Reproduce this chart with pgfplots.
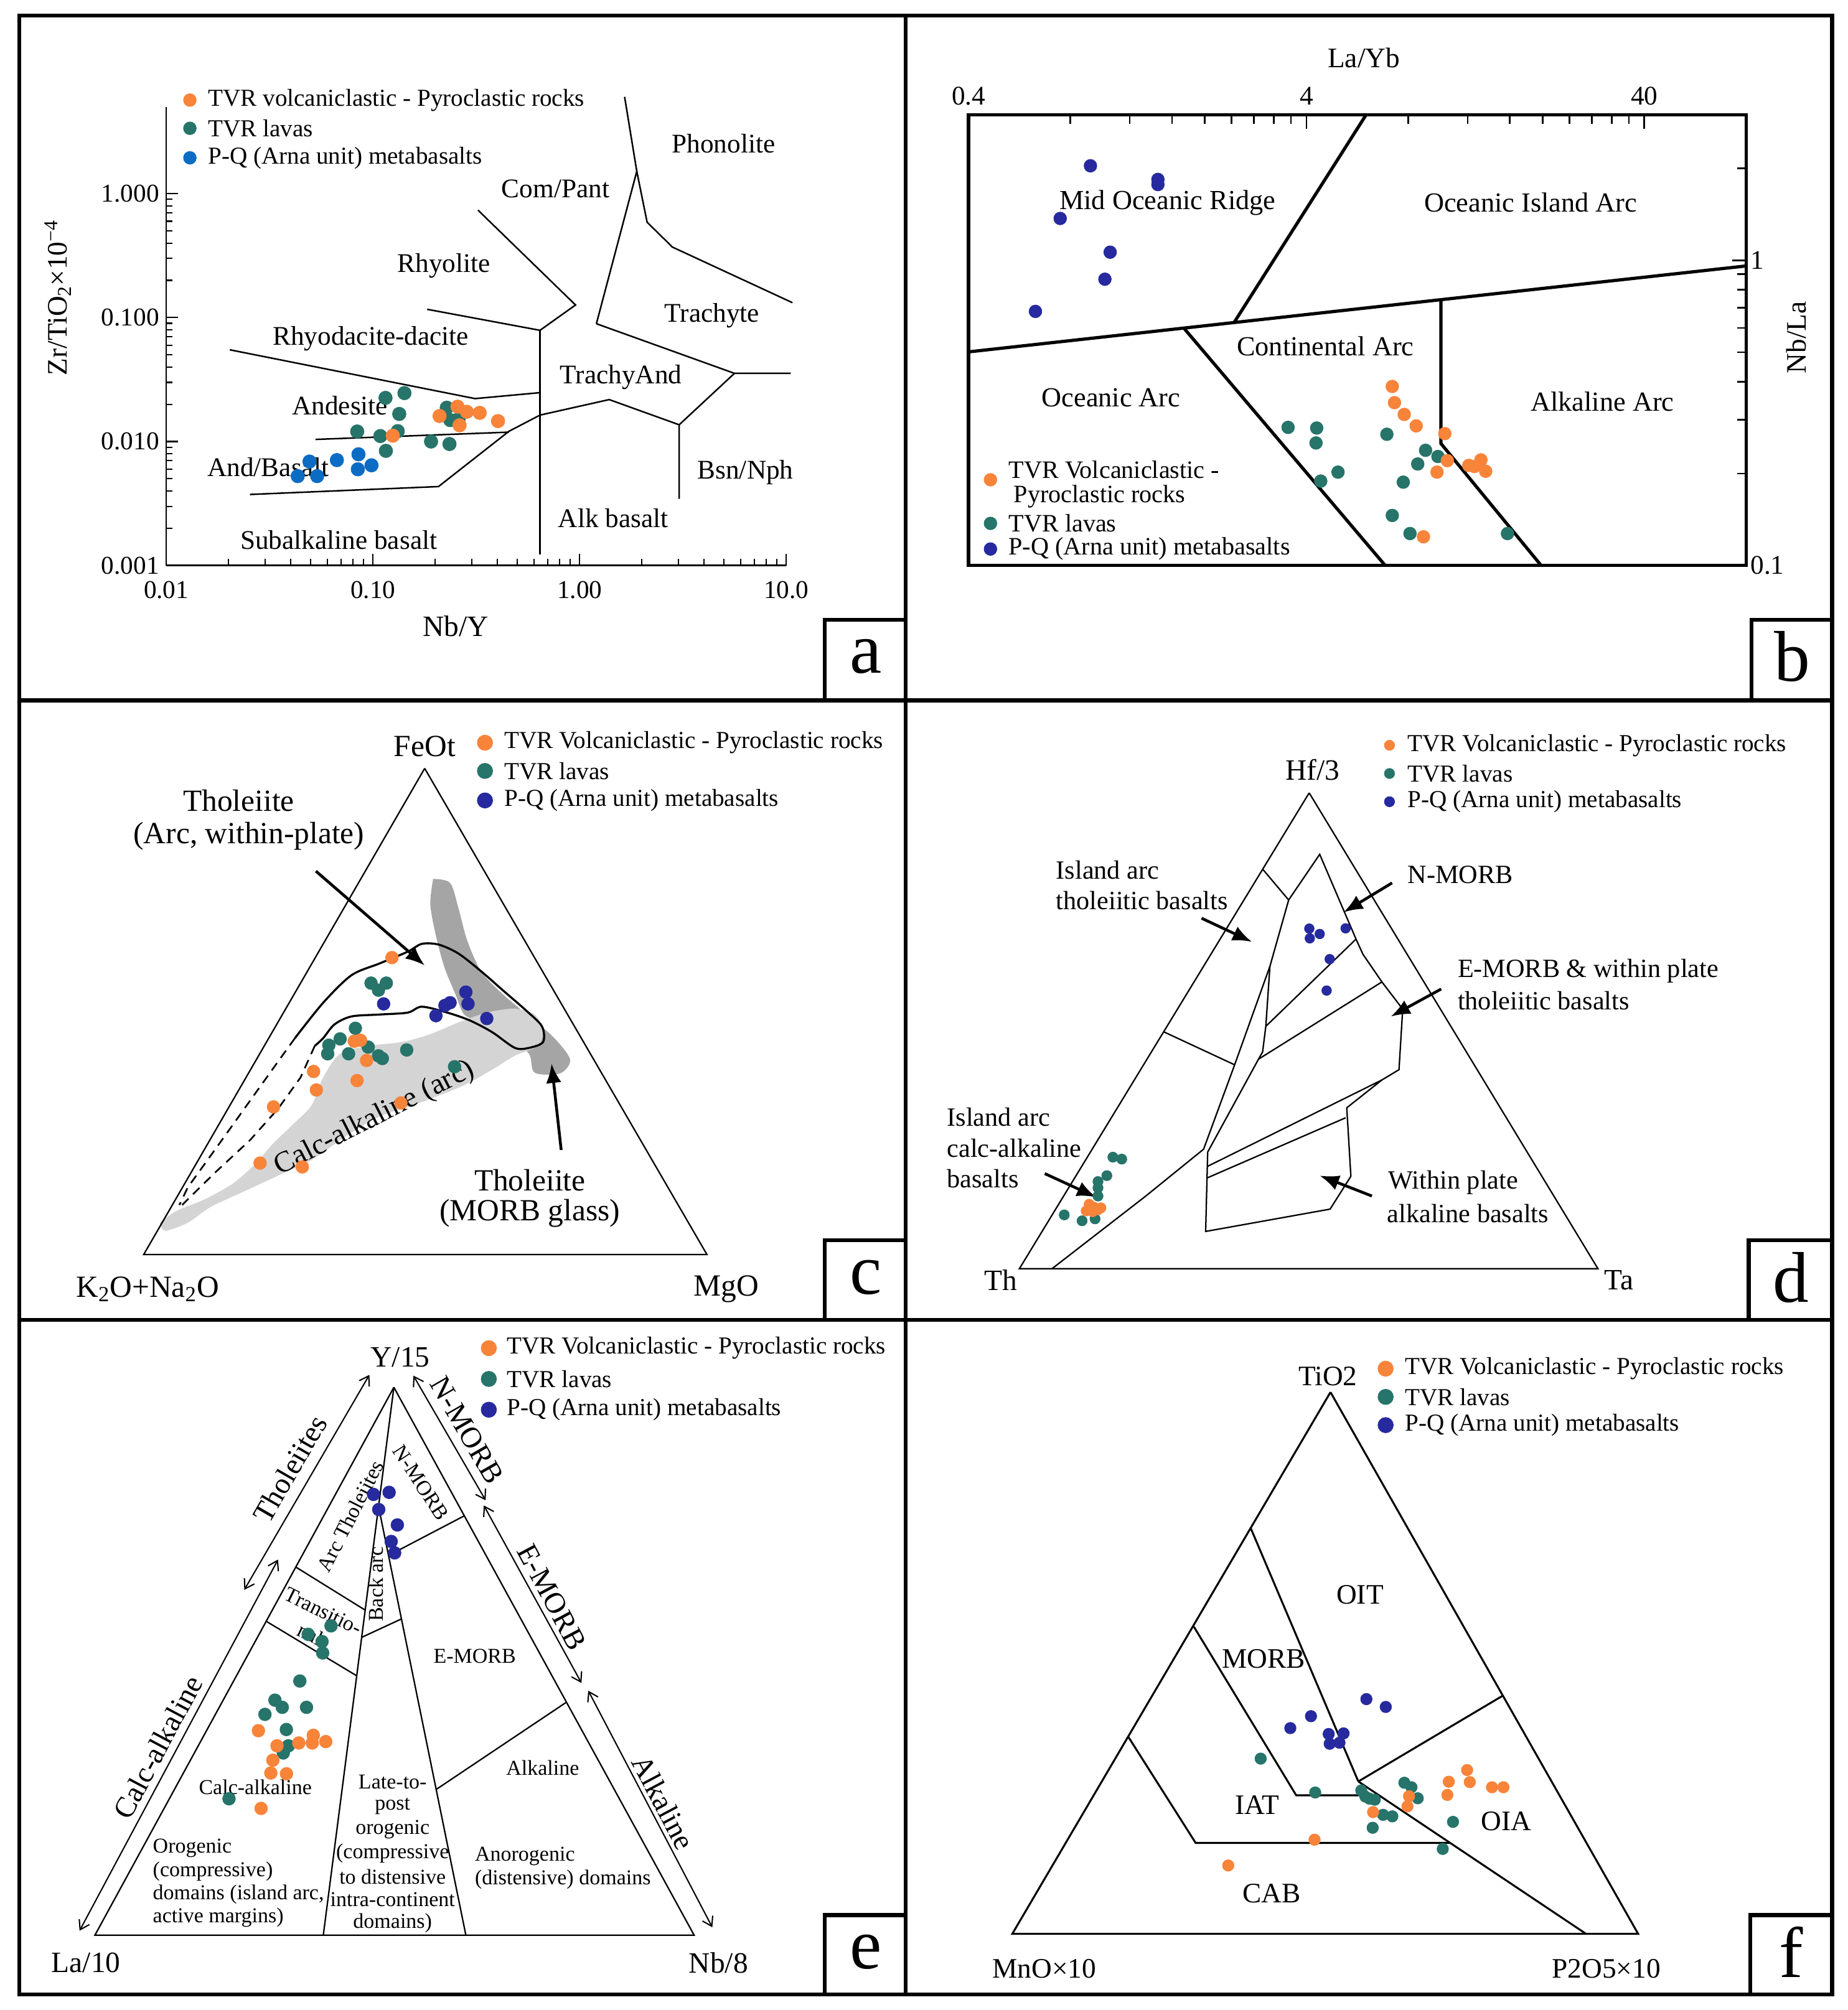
\documentclass[border=0pt]{standalone}
\usepackage{fontspec}
\setmainfont{Liberation Serif}
\usepackage{pgfplots}
\pgfplotsset{compat=1.18}
\usetikzlibrary{arrows.meta}
\definecolor{cOr}{RGB}{248,132,58}
\definecolor{cTe}{RGB}{38,116,106}
\definecolor{cBl}{RGB}{12,108,196}
\definecolor{cNv}{RGB}{38,42,158}
\definecolor{cLg}{RGB}{212,212,212}
\definecolor{cDg}{RGB}{165,165,165}
\newcommand{\fs}[1]{\fontsize{#1}{#1}\selectfont}
\tikzset{arr/.style={-{Latex[length=15pt,width=12pt]}, line width=2.2pt},
  dbl/.style={{Straight Barb[length=7pt,width=9pt]}-{Straight Barb[length=7pt,width=9pt]}, line width=1pt}}

\begin{document}
\begin{tikzpicture}
\useasboundingbox (0,0) rectangle (1440pt,-1567pt);

% ---------- canvas in picture pixels (frames, ternary diagrams, texts) ----------
\begin{axis}[at={(0pt,0pt)}, anchor=north west, hide axis, scale only axis,
  width=1440pt, height=1567pt, xmin=0, xmax=1440, ymin=0, ymax=1567,
  y dir=reverse, clip=false]

% frames
\draw[line width=3pt] (15,12) rectangle (1428,1555);
\draw[line width=3pt] (706,12) -- (706,1555);
\draw[line width=3pt] (15,546) -- (1428,546);
\draw[line width=3pt] (15,1029) -- (1428,1029);
\draw[line width=3pt] (643,546) -- (643,483) -- (706,483);
\draw[line width=3pt] (1365,546) -- (1365,483) -- (1428,483);
\draw[line width=3pt] (643,1029) -- (643,967) -- (706,967);
\draw[line width=3pt] (1363,1029) -- (1363,967) -- (1428,967);
\draw[line width=3pt] (643,1555) -- (643,1493) -- (706,1493);
\draw[line width=3pt] (1364,1555) -- (1364,1493) -- (1428,1493);
\node[font=\fs{56}] at (675,512) {a};
\node[font=\fs{56}] at (1397,512) {b};
\node[font=\fs{56}] at (675,996) {c};
\node[font=\fs{56}] at (1396,996) {d};
\node[font=\fs{56}] at (675,1522) {e};
\node[font=\fs{56}] at (1396,1522) {f};

% ---------- panel a texts ----------
\addplot[only marks, mark=*, mark size=5pt, cOr] coordinates {(148,78)};
\addplot[only marks, mark=*, mark size=5pt, cTe] coordinates {(148,100)};
\addplot[only marks, mark=*, mark size=5pt, cBl] coordinates {(148,123)};
\begin{scope}[every node/.style={font=\fs{19}, anchor=west, inner sep=0pt}]
\node at (162,78) {TVR volcaniclastic - Pyroclastic rocks};
\node at (162,100) {TVR lavas};
\node at (162,123) {P-Q (Arna unit) metabasalts};
\end{scope}
\begin{scope}[every node/.style={font=\fs{21}, inner sep=0pt}]
\node at (564,112) {Phonolite};
\node at (433,147) {Com/Pant};
\node at (346,207) {Rhyolite};
\node at (555,246) {Trachyte};
\node at (289,264) {Rhyodacite-dacite};
\node at (484,294) {TrachyAnd};
\node at (265,316) {Andesite};
\node at (209,364) {And/Basalt};
\node at (581,368) {Bsn/Nph};
\node at (478,404) {Alk basalt};
\node at (264,421) {Subalkaline basalt};
\node[font=\fs{23}] at (355,488) {Nb/Y};
\node[font=\fs{22}, rotate=90] at (45,232) {Zr/TiO\textsubscript{2}×10\textsuperscript{−4}};
\end{scope}

% ---------- panel b texts ----------
\addplot[only marks, mark=*, mark size=5pt, cOr] coordinates {(772,374)};
\addplot[only marks, mark=*, mark size=5pt, cTe] coordinates {(772,408)};
\addplot[only marks, mark=*, mark size=5pt, cNv] coordinates {(772,428)};
\begin{scope}[every node/.style={font=\fs{19.5}, anchor=west, inner sep=0pt}]
\node at (786,366) {TVR Volcaniclastic -};
\node at (790,387) {Pyroclastic rocks};
\node at (786,408) {TVR lavas};
\node at (786,428) {P-Q (Arna unit) metabasalts};
\end{scope}
\begin{scope}[every node/.style={font=\fs{21.5}, inner sep=0pt}]
\node at (910,158) {Mid Oceanic Ridge};
\node at (1193,158) {Oceanic Island Arc};
\node at (1033,270) {Continental Arc};
\node at (866,310) {Oceanic Arc};
\node at (1249,313) {Alkaline Arc};
\node[font=\fs{22}] at (1063,45) {La/Yb};
\node[font=\fs{22}, rotate=90] at (1400,263) {Nb/La};
\end{scope}

% ---------- panel c ----------
\addplot[fill=cDg, draw=none, smooth, tension=0.5] coordinates {
  (337.6,685.2)(350.8,688.3)(357.4,708.2)(364.0,732.7)(375.0,757.2)(392.5,775.6)
  (414.5,794.0)(432.1,809.3)(444.4,826.1)(436.5,836.8)(416.7,836.2)(412.3,821.5)
  (396.9,809.3)(375.0,797.0)(361.8,790.9)(355.2,775.6)(346.4,754.1)(339.8,729.6)
  (335.4,705.1)(337.6,685.2)};
\addplot[fill=cLg, draw=none, smooth, tension=0.5] coordinates {
  (124.4,953.2)(137.6,944.0)(159.6,934.9)(181.6,922.6)(199.1,907.3)(212.3,892.0)
  (229.9,875.1)(243.1,861.3)(251.9,839.9)(265.1,821.5)(287.0,815.4)(313.4,812.3)
  (335.4,806.2)(357.4,797.0)(379.4,789.4)(401.3,786.3)(416.7,790.9)(423.3,803.1)
  (419.0,815.4)(401.3,823.0)(383.7,833.8)(361.8,846.0)(331.0,858.3)(295.8,870.5)
  (269.5,885.8)(243.1,904.2)(216.7,916.5)(190.4,928.7)(164.0,941.0)(146.4,953.2)
  (128.8,959.4)(124.4,953.2)};
\addplot[black, line width=1.1pt] coordinates {(331,599)(112,978)(551,978)(331,599)};
\addplot[black, line width=1.6pt, smooth, tension=0.5] coordinates {
  (229.9,809.3)(251.9,781.7)(273.9,760.3)(295.8,751.1)(317.8,741.9)(328.8,735.8)
  (342.0,736.4)(357.4,743.4)(375.0,757.2)(392.5,772.5)(410.1,787.8)(422.4,800.1)
  (423.3,812.3)(412.3,816.9)(401.3,816.9)(383.7,804.7)(366.2,795.5)(348.6,789.4)
  (328.8,784.8)(317.8,789.4)(295.8,790.9)(273.9,792.4)(260.7,798.6)(251.9,809.3)
  (245.3,815.4)};
\addplot[black, line width=1.3pt, dash pattern=on 7pt off 5pt] coordinates {
  (229.9,809.3)(216.7,827.6)(199.1,852.2)(181.6,876.7)(164.0,901.2)(146.4,925.6)(139.8,939.4)};
\addplot[black, line width=1.3pt, dash pattern=on 7pt off 5pt] coordinates {
  (245.3,815.4)(234.3,839.9)(216.7,864.4)(194.8,888.9)(168.4,913.4)(146.4,934.9)(142.0,939.4)};
\addplot[arr] coordinates {(246.2,679.1)(331.0,752.6)};
\addplot[arr] coordinates {(437.4,896.5)(429.9,829.2)};
\addplot[only marks, mark=*, mark size=5pt, cTe] coordinates {
  (289.2,766.4)(301.1,766.4)(295.0,771.9)(277,801.6)(265.1,809.9)(256.3,814.8)
  (255.4,821.5)(271.7,821.5)(287.0,816.3)(295.0,823.1)(298.0,825.2)(317.0,818.5)(354.3,831.6)};
\addplot[only marks, mark=*, mark size=5pt, cOr] coordinates {
  (305.5,746.5)(276.1,811.7)(281,811)(285.7,826.7)(244.4,835.3)(278.3,842.4)
  (246.6,849.7)(213.2,862.9)(312.5,859.8)(202.7,906.7)(235.6,909.7)};
\addplot[only marks, mark=*, mark size=5pt, cNv] coordinates {
  (299.0,782.6)(346.8,783.8)(350.8,781.7)(363.1,773.4)(364.8,782.6)(339.8,791.8)(379.4,794.0)};
\node[font=\fs{23}, rotate=27] at (292,872) {Calc-alkaline (arc)};
\begin{scope}[every node/.style={font=\fs{24}, inner sep=0pt}]
\node at (331,582) {FeOt};
\node at (115,1005) {K\textsubscript{2}O+Na\textsubscript{2}O};
\node at (566,1005) {MgO};
\node at (186,624) {Tholeiite};
\node at (194,652) {(Arc, within-plate)};
\node at (413,920) {Tholeiite};
\node at (413,946) {(MORB glass)};
\end{scope}
\addplot[only marks, mark=*, mark size=6pt, cOr] coordinates {(378,579)};
\addplot[only marks, mark=*, mark size=6pt, cTe] coordinates {(378,601)};
\addplot[only marks, mark=*, mark size=6pt, cNv] coordinates {(378,624)};
\begin{scope}[every node/.style={font=\fs{19}, anchor=west, inner sep=0pt}]
\node at (393,579) {TVR Volcaniclastic - Pyroclastic rocks};
\node at (393,601) {TVR lavas};
\node at (393,624) {P-Q (Arna unit) metabasalts};
\end{scope}

% ---------- panel d ----------
\addplot[black, line width=1.1pt] coordinates {(1020.4,618.1)(794.5,989.1)(1245.5,989.1)(1020.4,618.1)};
\addplot[black, line width=1.1pt] coordinates {(984.1,677.5)(1004.4,701.6)};
\addplot[black, line width=1.1pt] coordinates {(1004.4,701.6)(1028.6,666.0)(1056.9,732.1)(1062.3,743.9)(1077.1,765.5)(1093.3,786.7)(1090.4,833.9)(1077.1,841.9)(1049.7,863.6)(1052.9,917.0)(1036.7,942.6)(939.7,960.0)(941.3,898.1)(980.9,825.7)};
\addplot[black, line width=1.1pt] coordinates {(1004.4,701.6)(989.8,753.3)(986.6,800.1)(984.1,820.1)(980.9,825.7)};
\addplot[black, line width=1.1pt] coordinates {(986.6,800.1)(1056.9,732.1)};
\addplot[black, line width=1.1pt] coordinates {(980.9,825.7)(1077.1,765.5)};
\addplot[black, line width=1.1pt] coordinates {(989.8,753.3)(962.3,830.1)(938.1,895.9)(892.8,932.6)(819.9,989.1)};
\addplot[black, line width=1.1pt] coordinates {(907.3,804.5)(962.3,830.1)};
\addplot[black, line width=1.1pt] coordinates {(1077.1,841.9)(941.3,909.2)};
\addplot[black, line width=1.1pt] coordinates {(1048.8,871.4)(941.3,918.1)};
\addplot[arr] coordinates {(936.5,715.8)(975.7,734.2)};
\addplot[arr] coordinates {(1085,688.3)(1047.2,711.2)};
\addplot[arr] coordinates {(1123.3,771)(1084.1,792.4)};
\addplot[arr] coordinates {(814.3,914.9)(854.4,933.3)};
\addplot[arr] coordinates {(1069.3,932.4)(1028.7,916.5)};
\addplot[only marks, mark=*, mark size=4pt, cTe] coordinates {
  (867.4,902.1)(874.3,903.6)(862.7,916.5)(855.8,921.1)(855.8,926.0)(855.8,932.4)
  (829.5,947.1)(843.4,951.7)(853.5,950.2)};
\addplot[only marks, mark=*, mark size=4pt, cOr] coordinates {
  (848.9,938.8)(852.6,941.0)(858.1,941.6)(846.6,944.0)(851.7,944.6)(855.8,943.1)};
\addplot[only marks, mark=*, mark size=3.8pt, cNv] coordinates {
  (1020.5,723.9)(1020.9,731.5)(1028.6,728.1)(1048.8,723.7)(1036.4,747.7)(1034.0,772.2)};
\begin{scope}[every node/.style={font=\fs{23}, inner sep=0pt}]
\node at (1023,600) {Hf/3};
\node at (780,998) {Th};
\node at (1262,998) {Ta};
\end{scope}
\begin{scope}[every node/.style={font=\fs{20.5}, anchor=west, inner sep=0pt}]
\node at (823,678) {Island arc};
\node at (823,702) {tholeiitic basalts};
\node at (1097,682) {N-MORB};
\node at (1136,757) {E-MORB \& within plate};
\node at (1136,780) {tholeiitic basalts};
\node at (738,871) {Island arc};
\node at (738,895) {calc-alkaline};
\node at (738,919) {basalts};
\node at (1082,922) {Within plate};
\node at (1081,946) {alkaline basalts};
\end{scope}
\addplot[only marks, mark=*, mark size=4pt, cOr] coordinates {(1083,581)};
\addplot[only marks, mark=*, mark size=4pt, cTe] coordinates {(1083,603)};
\addplot[only marks, mark=*, mark size=4pt, cNv] coordinates {(1083,625)};
\begin{scope}[every node/.style={font=\fs{19}, anchor=west, inner sep=0pt}]
\node at (1097,581) {TVR Volcaniclastic - Pyroclastic rocks};
\node at (1097,603) {TVR lavas};
\node at (1097,625) {P-Q (Arna unit) metabasalts};
\end{scope}

% ---------- panel e ----------
\addplot[black, line width=1.1pt] coordinates {(307,1081.5)(74,1508.6)(541,1508.6)(307,1081.5)};
\addplot[black, line width=1.1pt] coordinates {(307,1081.5)(252,1508.6)};
\addplot[black, line width=1.1pt] coordinates {(295.6,1177.2)(363.1,1508.6)};
\addplot[black, line width=1.1pt] coordinates {(304,1212)(361.9,1181.7)};
\addplot[black, line width=1.1pt] coordinates {(230.8,1221.8)(284.6,1255.2)};
\addplot[black, line width=1.1pt] coordinates {(207.8,1264.1)(278.0,1306.4)};
\addplot[black, line width=1.1pt] coordinates {(282.0,1276.4)(313.3,1261.9)};
\addplot[black, line width=1.1pt] coordinates {(340,1395)(441.5,1327)};
\addplot[dbl] coordinates {(190.4,1239.4)(287.9,1071.8)};
\addplot[dbl] coordinates {(216.7,1215.8)(62.0,1505.2)};
\addplot[dbl] coordinates {(322.2,1072.4)(378.5,1169.6)};
\addplot[dbl] coordinates {(377.1,1173.6)(453.2,1312)};
\addplot[dbl] coordinates {(458.5,1318)(555.2,1502.5)};
\addplot[only marks, mark=*, mark size=5pt, cTe] coordinates {
  (258.0,1267.5)(240.2,1274.1)(251.0,1279.7)(251.5,1288.6)(233.7,1310.5)(214.3,1325.4)
  (220.0,1331.0)(238.9,1331.0)(206.5,1336.5)(223.2,1348.3)(224.8,1361.0)(220.8,1366.6)(178.5,1402.3)};
\addplot[only marks, mark=*, mark size=5pt, cOr] coordinates {
  (201.4,1349.2)(215.9,1361.0)(232.9,1358.8)(244.2,1352.8)(243.4,1358.8)(253.9,1357.7)
  (212.7,1372.2)(211.1,1382.2)(223.3,1382.8)(203.5,1409.8)};
\addplot[only marks, mark=*, mark size=5pt, cNv] coordinates {
  (291.1,1165.0)(303.3,1163.4)(295.2,1176.8)(309.7,1188.8)(304.9,1201.7)(307.6,1210.6)};
\begin{scope}[every node/.style={font=\fs{23}, inner sep=0pt}]
\node at (312,1058) {Y/15};
\node at (67,1530) {La/10};
\node at (560,1530) {Nb/8};
\node[rotate=60] at (226,1145) {Tholeiites};
\node[rotate=62] at (123,1362) {Calc-alkaline};
\node[rotate=-60] at (364,1115) {N-MORB};
\node[rotate=-62] at (430,1245) {E-MORB};
\node[rotate=-62] at (517,1405) {Alkaline};
\end{scope}
\begin{scope}[every node/.style={font=\fs{16.5}, inner sep=0pt}]
\node[rotate=63] at (273,1182) {Arc Tholeiites};
\node[rotate=-57] at (328,1156) {N-MORB};
\node[rotate=90] at (293,1235) {Back arc};
\node[rotate=-26] at (252,1256) {Transitio-};
\node[rotate=-26] at (242,1274) {nal};
\node at (370,1291) {E-MORB};
\node at (423,1378) {Alkaline};
\node at (199,1393) {Calc-alkaline};
\node at (306,1389) {Late-to-};
\node at (306,1408) {post};
\node at (306,1426) {orogenic};
\node at (306,1445) {(compressive};
\node at (306,1463) {to distensive};
\node at (306,1481) {intra-continent};
\node at (306,1499) {domains)};
\node[anchor=west] at (119,1441) {Orogenic};
\node[anchor=west] at (119,1459) {(compressive)};
\node[anchor=west] at (119,1477) {domains (island arc,};
\node[anchor=west] at (119,1495) {active margins)};
\node[anchor=west] at (370,1447) {Anorogenic};
\node[anchor=west] at (370,1465) {(distensive) domains};
\end{scope}
\addplot[only marks, mark=*, mark size=6pt, cOr] coordinates {(381,1051)};
\addplot[only marks, mark=*, mark size=6pt, cTe] coordinates {(381,1075)};
\addplot[only marks, mark=*, mark size=6pt, cNv] coordinates {(381,1099)};
\begin{scope}[every node/.style={font=\fs{19}, anchor=west, inner sep=0pt}]
\node at (395,1051) {TVR Volcaniclastic - Pyroclastic rocks};
\node at (395,1075) {TVR lavas};
\node at (395,1099) {P-Q (Arna unit) metabasalts};
\end{scope}

% ---------- panel f ----------
\addplot[black, line width=1.5pt] coordinates {(1037,1085.3)(789,1507.6)(1276.8,1507.6)(1037,1085.3)};
\addplot[black, line width=1.5pt] coordinates {(974.8,1191.2)(1058.7,1388.8)};
\addplot[black, line width=1.5pt] coordinates {(930.5,1268.1)(1010.3,1399.6)(1074,1399.6)};
\addplot[black, line width=1.5pt] coordinates {(879.5,1354.1)(931.9,1436.7)(1130.2,1436.7)};
\addplot[black, line width=1.5pt] coordinates {(1058.7,1388.8)(1236.2,1507.6)};
\addplot[black, line width=1.5pt] coordinates {(1058.7,1388.8)(1171,1322.1)};
\addplot[only marks, mark=*, mark size=4.5pt, cNv] coordinates {
  (1065.0,1324.6)(1080.1,1330.7)(1021.8,1337.9)(1005.7,1347.2)(1035.6,1351.8)
  (1047.2,1351.3)(1036.4,1359.4)(1044.0,1358.6)};
\addplot[only marks, mark=*, mark size=4.5pt, cTe] coordinates {
  (1025.1,1397.4)(1061.0,1395.8)(1064.2,1400.6)(1067.4,1402.2)(1071.5,1403.0)(1078.0,1414.8)
  (1085.2,1416.0)(1069.9,1424.9)(1094.6,1389.8)(1100.1,1393.3)(1105.0,1401.9)
  (1132.5,1420.3)(1124.5,1441.4)(982.6,1371)};
\addplot[only marks, mark=*, mark size=4.5pt, cOr] coordinates {
  (1070.2,1412.7)(1098.2,1400.3)(1097.0,1408.2)(1129.2,1389.0)(1143.5,1379.9)
  (1145.6,1389.3)(1128.1,1399.3)(1162.9,1393.3)(1171.8,1393.3)(1024.6,1434.2)(957.3,1454.3)};
\begin{scope}[every node/.style={font=\fs{22}, inner sep=0pt}]
\node at (1035,1073) {TiO2};
\node at (814,1535) {MnO×10};
\node at (1252,1535) {P2O5×10};
\node at (1060,1243) {OIT};
\node at (985,1293) {MORB};
\node at (980,1407) {IAT};
\node at (1174,1420) {OIA};
\node at (991,1476) {CAB};
\end{scope}
\addplot[only marks, mark=*, mark size=6pt, cOr] coordinates {(1080,1067)};
\addplot[only marks, mark=*, mark size=6pt, cTe] coordinates {(1080,1089)};
\addplot[only marks, mark=*, mark size=6pt, cNv] coordinates {(1080,1111)};
\begin{scope}[every node/.style={font=\fs{19}, anchor=west, inner sep=0pt}]
\node at (1095,1067) {TVR Volcaniclastic - Pyroclastic rocks};
\node at (1095,1089) {TVR lavas};
\node at (1095,1111) {P-Q (Arna unit) metabasalts};
\end{scope}
\end{axis}

% ---------- panel a: Zr/TiO2 vs Nb/Y ----------
\begin{axis}[at={(129.6pt,-440.8pt)}, anchor=south west, scale only axis,
  width=483.3pt, height=357.3pt,
  xmode=log, ymode=log, xmin=0.01, xmax=10, ymin=0.001, ymax=5,
  axis lines=left, axis line style={-, line width=1.3pt},
  xtick={0.01,0.1,1,10}, xticklabels={0.01,0.10,1.00,10.0},
  ytick={0.001,0.01,0.1,1}, yticklabels={0.001,0.010,0.100,1.000},
  tick align=inside, major tick length=9pt, minor tick length=5pt,
  tick style={black, line width=1pt},
  ticklabel style={font=\fs{20}}, xticklabel style={yshift=-9pt},
  yticklabel style={xshift=-2pt}, clip=false]
\addplot[black, line width=1.2pt] coordinates {(0.0203,0.055)(0.312,0.0222)(0.643,0.0248)};
\addplot[black, line width=1.2pt] coordinates {(0.183,0.1167)(0.643,0.079)};
\addplot[black, line width=1.2pt] coordinates {(0.643,0.079)(0.643,0.00122)};
\addplot[black, line width=1.2pt] coordinates {(0.322,0.738)(0.955,0.1265)(0.643,0.079)};
\addplot[black, line width=1.2pt] coordinates {(1.65,6.05)(1.89,1.517)(1.205,0.0893)};
\addplot[black, line width=1.2pt] coordinates {(1.89,1.517)(2.12,0.589)(2.81,0.371)(10.7,0.132)};
\addplot[black, line width=1.2pt] coordinates {(1.205,0.0893)(5.61,0.0355)(10.5,0.0355)};
\addplot[black, line width=1.2pt] coordinates {(5.61,0.0355)(3.03,0.01365)(3.03,0.00345)};
\addplot[black, line width=1.2pt] coordinates {(0.0254,0.00374)(0.2075,0.00433)(0.455,0.0121)(0.643,0.01634)(1.39,0.0218)(3.03,0.01365)};
\addplot[black, line width=1.2pt] coordinates {(0.0527,0.0104)(0.455,0.0119)};
\addplot[only marks, mark=*, mark size=5.3pt, cTe] coordinates {
  (0.115,0.0225)(0.142,0.0246)(0.134,0.0167)(0.0839,0.01205)(0.1086,0.01107)(0.1318,0.01213)
  (0.1155,0.00841)(0.191,0.0100)(0.2345,0.00955)(0.2276,0.01875)(0.2366,0.01489)(0.2595,0.01517)};
\addplot[only marks, mark=*, mark size=5.3pt, cOr] coordinates {
  (0.21,0.01607)(0.2565,0.01913)(0.2845,0.01738)(0.3285,0.01704)(0.4027,0.01462)(0.2624,0.01352)(0.1247,0.01115)};
\addplot[only marks, mark=*, mark size=5.3pt, cBl] coordinates {
  (0.04325,0.00526)(0.0493,0.00689)(0.0537,0.00526)(0.0669,0.00708)(0.0851,0.00789)(0.0845,0.00597)(0.0984,0.00643)};
\end{axis}

% ---------- panel b: Nb/La vs La/Yb ----------
\begin{axis}[at={(754.9pt,-440.8pt)}, anchor=south west, scale only axis,
  width=606pt, height=351.4pt,
  xmode=log, ymode=log, xmin=0.4, xmax=80, ymin=0.1, ymax=3,
  axis line style={line width=2.5pt},
  xtick={0.4,4,40}, xticklabels={0.4,4,40},
  minor xtick={0.8,1.2,1.6,2,2.4,2.8,3.2,3.6,8,12,16,20,24,28,32,36},
  ytick={0.1,1}, yticklabels={0.1,1},
  minor ytick={0.2,0.3,0.4,0.5,0.6,0.7,0.8,0.9,2,3},
  xtick pos=right, ytick pos=right, xticklabel pos=right, yticklabel pos=right,
  tick align=inside, major tick length=11pt, minor tick length=7pt,
  tick style={black, line width=1.3pt},
  ticklabel style={font=\fs{21}}, xticklabel style={yshift=4pt}, clip=false]
\addplot[black, line width=2.5pt] coordinates {(0.4,0.501)(80,0.958)};
\addplot[black, line width=2.5pt] coordinates {(2.445,0.626)(6.01,3.0)};
\addplot[black, line width=2.5pt] coordinates {(1.736,0.599)(6.84,0.1)};
\addplot[black, line width=2.5pt] coordinates {(10.0,0.742)(10.0,0.251)(19.8,0.1)};
\addplot[only marks, mark=*, mark size=5pt, cNv] coordinates {
  (0.918,2.04)(1.454,1.841)(1.454,1.771)(0.747,1.371)(1.05,1.063)(1.013,0.867)(0.631,0.68)};
\addplot[only marks, mark=*, mark size=5pt, cTe] coordinates {
  (3.53,0.2834)(4.29,0.282)(4.27,0.252)(4.96,0.2022)(4.41,0.189)(6.92,0.269)(9.01,0.2384)
  (9.80,0.2275)(8.54,0.215)(7.74,0.1875)(7.18,0.1458)(8.10,0.1272)(15.74,0.1272)};
\addplot[only marks, mark=*, mark size=5pt, cOr] coordinates {
  (7.18,0.386)(7.29,0.3416)(7.79,0.3125)(8.45,0.2866)(10.27,0.2704)(10.45,0.2205)(9.74,0.2022)
  (12.09,0.2127)(12.56,0.2110)(13.14,0.2218)(13.57,0.2035)(8.88,0.1241)};
\end{axis}
\end{tikzpicture}
\end{document}
